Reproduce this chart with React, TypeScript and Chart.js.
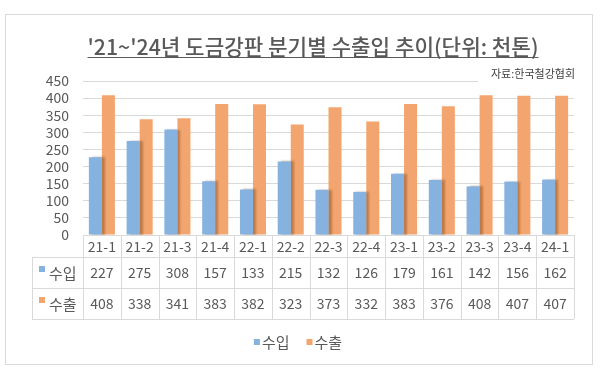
import React, { useEffect, useRef } from 'react';
import { Chart, registerables } from 'chart.js';

Chart.register(...registerables);

const TITLE = "'21~'24년 도금강판 분기별 수출입 추이(단위: 천톤)";
const SOURCE = '자료:한국철강협회';
const categories = ['21-1', '21-2', '21-3', '21-4', '22-1', '22-2', '22-3', '22-4', '23-1', '23-2', '23-3', '23-4', '24-1'];
const seriesNames = ['수입', '수출'];
const importValues = [227, 275, 308, 157, 133, 215, 132, 126, 179, 161, 142, 156, 162];
const exportValues = [408, 338, 341, 383, 382, 323, 373, 332, 383, 376, 408, 407, 407];
const yTickValues = [0, 50, 100, 150, 200, 250, 300, 350, 400, 450];

const FONT = "'Noto Sans CJK KR', 'Noto Sans', sans-serif";
const TEXT = '#595959';
const LINE = '#D9D9D9';
const BLUE = '#86B2E0';
const ORANGE = '#F3A56F';
const COLORS = [BLUE, ORANGE];

const decor = {
  id: 'decor',
  beforeDraw(chart: any) {
    const ctx = chart.ctx;
    ctx.save();
    ctx.fillStyle = '#ffffff';
    ctx.fillRect(0, 0, chart.width, chart.height);
    ctx.strokeStyle = LINE;
    ctx.lineWidth = 1;
    ctx.strokeRect(5.5, 14.5, 587, 350);
    ctx.restore();
  },
  beforeDatasetDraw(chart: any, args: any) {
    if (args.index === 0) {
      const ctx = chart.ctx;
      ctx.save();
      ctx.shadowColor = 'rgba(90,40,0,0.35)';
      ctx.shadowOffsetX = 3;
      ctx.shadowOffsetY = 0;
      ctx.shadowBlur = 2;
    }
  },
  afterDatasetDraw(chart: any, args: any) {
    if (args.index === 0) chart.ctx.restore();
  },
  afterDraw(chart: any) {
    const ctx = chart.ctx;
    const xs = chart.scales.x;
    const area = chart.chartArea;
    ctx.save();

    // Title
    ctx.fillStyle = TEXT;
    let size = 20;
    ctx.font = `500 ${size}px ${FONT}`;
    const w0 = ctx.measureText(TITLE).width;
    size = size * 451 / w0;
    ctx.font = `500 ${size}px ${FONT}`;
    const tw = ctx.measureText(TITLE).width;
    const tx = 313 - tw / 2;
    ctx.textAlign = 'left';
    ctx.textBaseline = 'alphabetic';
    ctx.fillText(TITLE, tx, 55);
    ctx.strokeStyle = TEXT;
    ctx.lineWidth = 1;
    ctx.beginPath();
    ctx.moveTo(tx, 57.5);
    ctx.lineTo(tx + tw, 57.5);
    ctx.stroke();

    // Source box
    ctx.fillStyle = '#ffffff';
    ctx.fillRect(478, 66, 100, 17);
    ctx.fillStyle = '#404040';
    ctx.font = `11px ${FONT}`;
    ctx.textBaseline = 'middle';
    ctx.fillText(SOURCE, 491, 74);

    // Table
    const n = categories.length;
    const half = (xs.getPixelForValue(1) - xs.getPixelForValue(0)) / 2;
    const bounds: number[] = [];
    for (let i = 0; i <= n; i++) {
      bounds.push(i < n ? xs.getPixelForValue(i) - half : xs.getPixelForValue(n - 1) + half);
    }
    const x0 = bounds[0];
    const xN = bounds[n];
    const left = 32;
    const yTop = area.bottom;
    const yHead = xs.bottom;
    const rowH = 31;
    const rowsY = [yHead, yHead + rowH, yHead + 2 * rowH];
    const r = (v: number) => Math.round(v) + 0.5;
    ctx.strokeStyle = LINE;
    ctx.lineWidth = 1;
    ctx.beginPath();
    ctx.moveTo(x0, r(yTop)); ctx.lineTo(xN, r(yTop));
    rowsY.forEach((y) => { ctx.moveTo(left, r(y)); ctx.lineTo(xN, r(y)); });
    bounds.forEach((b) => { ctx.moveTo(r(b), yTop); ctx.lineTo(r(b), rowsY[2]); });
    ctx.moveTo(r(left), yHead); ctx.lineTo(r(left), rowsY[2]);
    ctx.stroke();

    const series = [importValues, exportValues];
    series.forEach((vals, s) => {
      const cy = rowsY[s] + rowH / 2 + 0.5;
      ctx.fillStyle = COLORS[s];
      ctx.fillRect(39, cy - 7, 6, 6);
      ctx.fillStyle = TEXT;
      ctx.font = `15px ${FONT}`;
      ctx.textAlign = 'left';
      ctx.textBaseline = 'middle';
      ctx.fillText(seriesNames[s], 49, cy);
      ctx.font = `14px ${FONT}`;
      ctx.textAlign = 'center';
      vals.forEach((v, i) => {
        ctx.fillText(String(v), xs.getPixelForValue(i), cy);
      });
    });

    // Legend
    ctx.font = `15px ${FONT}`;
    ctx.textAlign = 'left';
    ctx.textBaseline = 'middle';
    const ly = 342;
    const box = 6;
    const gapBox = 2;
    const gapItem = 17;
    const widths = seriesNames.map((s) => box + gapBox + ctx.measureText(s).width);
    const total = widths.reduce((a, b) => a + b, 0) + gapItem * (widths.length - 1);
    let lx = 298 - total / 2;
    seriesNames.forEach((s, i) => {
      ctx.fillStyle = COLORS[i];
      ctx.fillRect(lx, ly - 3, box, box);
      ctx.fillStyle = TEXT;
      ctx.fillText(s, lx + box + gapBox, ly);
      lx += widths[i] + gapItem;
    });

    ctx.restore();
  },
};

export default function App() {
  const ref = useRef<HTMLCanvasElement | null>(null);
  useEffect(() => {
    if (!ref.current) return;
    const chart = new Chart(ref.current, {
      type: 'bar',
      data: {
        labels: categories,
        datasets: [
          { label: seriesNames[0], data: importValues, backgroundColor: BLUE, categoryPercentage: 0.69, barPercentage: 1 },
          { label: seriesNames[1], data: exportValues, backgroundColor: ORANGE, categoryPercentage: 0.69, barPercentage: 1 },
        ],
      },
      options: {
        responsive: false,
        animation: false,
        layout: { padding: { left: 0, right: 26, top: 81, bottom: 111 } },
        plugins: {
          legend: { display: false },
          title: { display: false },
          tooltip: { enabled: false },
        },
        scales: {
          x: {
            grid: { display: false, drawTicks: false },
            border: { display: false },
            ticks: { color: TEXT, font: { family: FONT, size: 14 }, padding: 3, maxRotation: 0, autoSkip: false },
            afterFit: (scale: any) => { scale.height = 22; },
          },
          y: {
            min: yTickValues[0],
            max: yTickValues[yTickValues.length - 1],
            grid: { color: LINE, drawTicks: false },
            border: { display: false },
            ticks: { color: TEXT, font: { family: FONT, size: 14, lineHeight: 1 }, padding: 14, autoSkip: false },
            afterBuildTicks: (scale: any) => { scale.ticks = yTickValues.map((v) => ({ value: v })); },
            afterFit: (scale: any) => { scale.width = 83; },
          },
        },
      },
      plugins: [decor],
    });
    return () => chart.destroy();
  }, []);
  return (
    <div style={{ position: 'absolute', left: 0, top: 0, width: 600, height: 368 }}>
      <canvas ref={ref} width={600} height={368} />
    </div>
  );
}
